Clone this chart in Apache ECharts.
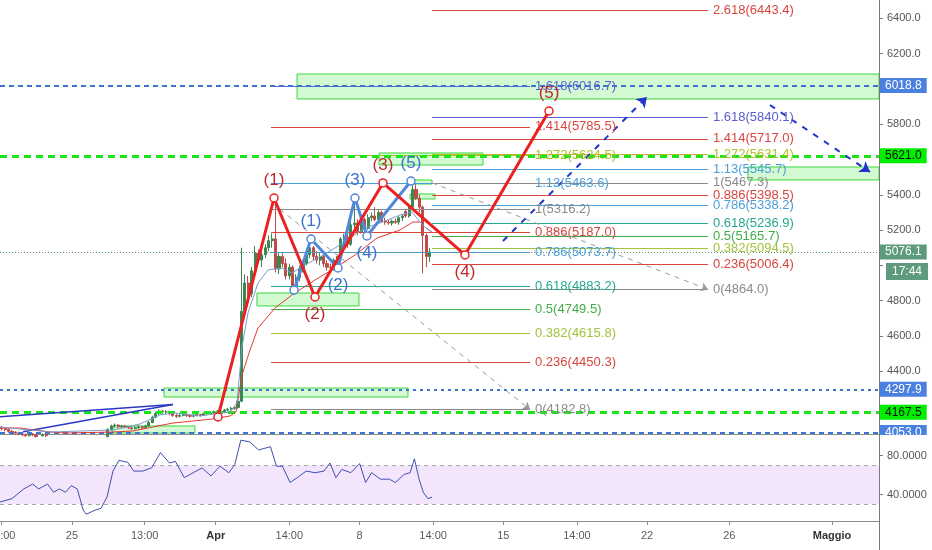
<!DOCTYPE html>
<html><head><meta charset="utf-8">
<script src="https://cdn.jsdelivr.net/npm/echarts@6/dist/echarts.min.js"></script>
<style>html,body{margin:0;padding:0;background:#fff}#c{width:932px;height:550px}</style>
</head><body><div id="c"></div>
<script>
// x unit: hours since 2019-03-21 12:00 ; 4h candles
const candleStart = 2, candleStep = 4;
// [open, close, low, high]
const ohlc = [
[4080,4075,4065,4090],[4075,4070,4060,4082],[4070,4060,4052,4076],[4060,4055,4046,4066],[4055,4050,4042,4060],[4050,4045,4038,4058],
[4045,4040,4032,4052],[4040,4035,4028,4047],[4035,4045,4030,4050],[4045,4040,4033,4051],[4040,4030,4024,4046],[4030,4035,4025,4042],
[4035,4040,4030,4048],[4040,4035,4028,4046],[4035,4030,4022,4041],[4030,4020,4012,4036],[4020,4025,4014,4032],[4025,4030,4018,4038],
[4030,4020,4010,4035],[4020,4010,4000,4026],[4010,3990,3980,4015],[3990,3970,3955,3995],[3970,3960,3940,3978],[3960,3965,3950,3975],
[3965,3975,3958,3985],[3975,3980,3968,3990],[3980,3990,3972,3998],[3990,3995,3982,4004],[3995,4000,3988,4010],[4000,4010,3994,4018],
[4010,4030,4005,4038],[4030,4070,4025,4078],[4070,4090,4062,4098],[4090,4095,4080,4104],[4095,4085,4076,4100],[4085,4090,4078,4097],
[4090,4085,4077,4096],[4085,4080,4072,4091],[4080,4075,4068,4088],[4075,4080,4070,4089],[4080,4085,4074,4093],[4085,4080,4072,4092],
[4080,4090,4076,4098],[4090,4110,4086,4118],[4110,4140,4105,4148],[4140,4160,4134,4170],[4160,4175,4152,4185],[4175,4170,4160,4182],
[4170,4170,4158,4180],[4170,4160,4150,4176],[4160,4150,4142,4166],[4150,4145,4136,4158],[4145,4150,4138,4157],[4150,4155,4143,4162],
[4155,4150,4141,4160],[4150,4145,4138,4156],[4145,4150,4139,4157],[4150,4155,4144,4161],[4155,4150,4143,4160],[4150,4160,4146,4166],
[4160,4160,4152,4168],[4160,4165,4154,4172],[4165,4170,4158,4177],[4170,4175,4163,4182],[4175,4170,4162,4180],[4170,4180,4165,4187],
[4180,4185,4173,4192],[4185,4190,4178,4198],[4190,4195,4182,4204],[4195,4230,4188,4245],[4230,4740,4225,5100],[4740,4900,4700,4950],
[4900,4840,4800,4940],[4840,4970,4820,4990],[4970,5070,4950,5110],[5070,5030,5010,5090],[5030,5060,4990,5080],[5060,5100,5040,5120],
[5100,5140,5080,5170],[5140,5150,5100,5180],[5150,4980,4960,5390],[4980,5050,4950,5070],[5050,5010,4990,5070],[5010,4940,4920,5040],
[4940,4990,4920,5010],[4990,4880,4860,5000],[4880,4930,4855,4950],[4930,4980,4910,5000],[4980,5010,4960,5030],[5010,5060,5000,5090],
[5060,5100,5040,5150],[5100,5050,5030,5110],[5050,5030,5010,5080],[5030,5050,5000,5070],[5050,5010,4990,5060],[5010,4990,4970,5030],
[4990,4985,4960,5010],[4985,5030,4970,5040],[5030,5050,4985,5060],[5050,5150,5040,5160],[5150,5160,5100,5180],[5160,5120,5100,5180],
[5120,5230,5110,5300],[5230,5240,5200,5380],[5240,5190,5170,5260],[5190,5260,5180,5280],[5260,5210,5170,5270],[5210,5270,5200,5290],
[5270,5280,5250,5300],[5280,5260,5250,5330],[5260,5300,5240,5320],[5300,5250,5240,5310],[5250,5245,5230,5270],[5245,5240,5230,5260],
[5240,5250,5225,5260],[5250,5245,5235,5265],[5245,5270,5230,5280],[5270,5280,5250,5290],[5305,5280,5270,5320],[5280,5330,5270,5340],
[5330,5430,5320,5480],[5430,5380,5370,5460],[5380,5330,5300,5400],[5330,5170,4955,5340],[5170,5050,4990,5180],[5050,5076.1,5020,5100]
];

const maRedHours = [0,23.4,58.4,78.3,132,155.4,178.7,202.1,225.5,248.8,268.7,275.7,282.7,292.1,301.4,321.3,341.1,368,391.4,414.7,440.4,467.3,482.5,490.7,497.7,504.7];
const maRedValues = [4078.6,4078.6,4056,4050.3,4056,4061.7,4084.3,4106.9,4118.2,4129.6,4146.6,4169.3,4378.9,4520.6,4645.2,4758.5,4832.2,4917.2,4985.2,5058.8,5155.2,5200.5,5245.8,5245.8,5211.8,5189.2];
const maBlueHours = [0,58.4,132,163.6,186.9,204.4,233.6,268.7,276.9,282.7,289.7,301.4,313.1,329.4,341.1,356.3,371.5,391.4,408.9,426.4,443.9,467.3,481.3,490.7,497.7,504.7];
const maBlueValues = [4084.3,4056,4067.3,4101.3,4152.3,4163.6,4146.6,4169.3,4220.3,4537.6,4730.2,4900.2,4973.9,4985.2,4956.9,5002.2,5041.9,5098.5,5155.2,5211.8,5240.2,5285.5,5302.5,5245.8,5211.8,5189.2];

const rsiHours = [0,13.9,27.8,38.2,45.1,55.6,62.5,69.5,76.4,83.3,90.3,97.2,100.7,111.1,118,125,132,138.9,149.3,156.3,166.7,177.1,187.5,197.9,204.9,215.3,225.7,236.1,246.5,257,267.4,274.3,281.3,291.7,302.1,316,323,329.9,338.9,347.3,357.7,368.1,378.5,385.5,392.4,399.4,409.8,420.2,427.1,434.1,444.5,454.9,461.9,472.3,479.2,484.1,489.6,494.5,500,504.9];
const rsiValues = [32.3,35.7,45.7,50.7,45.7,50.7,42.3,45.7,42.3,49,45.7,24,19.7,24,25.7,37.3,64,75,73,64,64,67.3,83,72.3,74,57.3,62.3,67.3,59,69,62.3,70.7,95.7,94,85.7,89,69,69,52.3,57.3,64,62.3,64,72.3,57.3,65.7,62.3,71.7,52.3,62.3,55.7,55.7,52.3,60.7,62.3,76.7,55.7,42.3,35.7,37.3];

const redWaveHours = [254.7,320.1,368.0,447.4,543.2,641.4];
const redWaveValues = [4141,5381.8,4820.9,5467.3,5058.9,5874.8];
const redWaveLabels = ['','(1)','(2)','(3)','(4)','(5)'];
const blueWaveHours = [343.5,363.3,394.9,414.7,428.7,480.1];
const blueWaveValues = [4860,5149.5,4985.2,5381.8,5166.5,5478];
const blueWaveLabels = ['','(1)','(2)','(3)','(4)','(5)'];
const waveLabelBelow = [false,false,true,false,true,false];

const fibRatios = ['0','0.236','0.382','0.5','0.618','0.786','0.886','1','1.13','1.272','1.414','1.618','2.618'];
const fibRightValues = [4864.0,5006.4,5094.5,5165.7,5236.9,5338.2,5398.5,5467.3,5545.7,5631.4,5717.0,5840.1,6443.4];
const fibLeftValues = [4182.8,4450.3,4615.8,4749.5,4883.2,5073.7,5187.0,5316.2,5463.6,5624.5,5785.5,6016.7,null];
const fibRightSpan = [504.7,827.1];
const fibLeftSpan = [316.6,619.2];

const levelValues = [6018.8,5621.0,5076.1,4297.9,4167.5,4053.0];
const levelKinds = ['blue','lime','last','blueDot','lime','blue'];
const lastTimeText = '17:44';

// [h1, v1, h2, v2]
const boxes = [
 [347,6084.4,1026.9,5942.7],[442.8,5636.8,564.3,5568.8],[479,5484,504.7,5461.3],[479,5404.5,508.2,5376.2],
 [300.2,4843.6,419.4,4770],[191.6,4305.2,476.6,4254.2],[132,4090,227.8,4050.3],[873.8,5557.5,1026.9,5484]
];
// dashed grey fib trend lines [h1,v1,h2,v2]
const fibTrends = [[317.8,5353.5,619.2,4182.8],[504.7,5467.3,827.1,4864.0]];
// projected path arrows
const projArrows = [[587.6,5138.2,755.8,5954.1],[899.5,5908.8,1016.4,5529.1]];
// solid trendlines
const trendLines = [[0,4142.7,202.1,4211.8],[26.9,4057.7,202.1,4211.8]];

const xTickHours = [2,84,169,252,338,420,506,588,674,756,852,972];
const xTickLabels = ['14:00','25','13:00','Apr','14:00','8','14:00','15','14:00','22','26','Maggio'];
const xTickMonth = [false,false,false,true,false,false,false,false,false,false,false,true];
const yTicks = [4400,4600,4800,5000,5200,5400,5600,5800,6000,6200,6400];
const yLabels = [4400,4600,4800,5200,5400,5800,6200,6400];
const rsiTicks = [40,80];
const rsiBand = [30,70];

const X_MAX = 1026.9;
const FONT = 'Liberation Sans';

const fibColor = {'0':'#8a8a8a','0.236':'#d9453f','0.382':'#a3c33c','0.5':'#43ad4a','0.618':'#26a88e','0.786':'#4a9fd8','0.886':'#d9453f','1':'#8a8a8a','1.13':'#4a9fd8','1.272':'#b2be28','1.414':'#d9453f','1.618':'#5a5ed0','2.618':'#d9453f'};
const levelStyle = {
  blue:{line:{color:'#3b74d4',width:2,type:[5,4]},bg:'#4a80e0',fg:'#fff'},
  blueDot:{line:{color:'#3b74d4',width:2,type:[3,4]},bg:'#4a80e0',fg:'#fff'},
  lime:{line:{color:'#19e619',width:3,type:[7,5]},bg:'#00ee00',fg:'#111'},
  last:{line:{color:'#5a8f7b',width:1,type:[1,2]},bg:'#5e9a7c',fg:'#fff'}
};

const chart = echarts.init(document.getElementById('c'));

function fibSegments(values, span){
  const out = [];
  values.forEach((v,i)=>{
    if(v==null) return;
    const col = fibColor[fibRatios[i]];
    out.push([{coord:[span[0],v],lineStyle:{color:col,width:1,type:'solid'},
      label:{show:true,position:'end',distance:5,formatter:fibRatios[i]+'('+v.toFixed(1)+')',color:col,fontSize:13,fontFamily:FONT}},
      {coord:[span[1],v]}]);
  });
  return out;
}

const levelLines = levelValues.map((v,i)=>{
  const s = levelStyle[levelKinds[i]];
  return {yAxis:v,lineStyle:s.line,label:{show:true,position:'end',distance:1,formatter:v.toFixed(1),
    backgroundColor:s.bg,color:s.fg,padding:[2,5,1,5],fontSize:12,fontFamily:FONT}};
});

function waveData(hours, values, labels, color){
  return hours.map((h,i)=>({value:[h,values[i]],
    label:{show:labels[i]!=='',formatter:labels[i],position:waveLabelBelow[i]?'bottom':'top',distance:4,
      color:color,fontSize:17,fontFamily:FONT}}));
}

const option = {
  animation:false,
  backgroundColor:'#ffffff',
  textStyle:{fontFamily:FONT},
  grid:[
    {left:0,top:0,width:879,height:434,containLabel:false,outerBoundsMode:'none'},
    {left:0,top:436,width:879,height:85,containLabel:false,outerBoundsMode:'none'}
  ],
  xAxis:[
    {type:'value',gridIndex:0,min:0,max:X_MAX,axisLine:{show:true,onZero:false,lineStyle:{color:'#8c8c8c'}},axisTick:{show:false},axisLabel:{show:false},splitLine:{show:false}},
    {type:'value',gridIndex:1,min:0,max:X_MAX,axisLine:{show:true,onZero:false,lineStyle:{color:'#8c8c8c'}},
      axisTick:{show:true,customValues:xTickHours,length:4,lineStyle:{color:'#8c8c8c'}},
      axisLabel:{show:true,customValues:xTickHours,margin:9,fontSize:11,color:'#5a5a5a',
        formatter:(v)=>{const i=xTickHours.indexOf(v);if(i<0)return '';return xTickMonth[i]?'{m|'+xTickLabels[i]+'}':xTickLabels[i];},
        rich:{m:{fontWeight:'bold',color:'#333',fontSize:11,fontFamily:FONT}}},
      splitLine:{show:false}}
  ],
  yAxis:[
    {type:'value',gridIndex:0,position:'right',min:4044.6,max:6503.7,
      axisLine:{show:true,onZero:false,lineStyle:{color:'#7a7a7a'}},
      axisTick:{show:true,customValues:yTicks,length:4,lineStyle:{color:'#7a7a7a'}},
      axisLabel:{show:true,customValues:yLabels,margin:8,fontSize:11,color:'#555',formatter:(v)=>v.toFixed(1)},
      splitLine:{show:false}},
    {type:'value',gridIndex:1,position:'right',min:12.8,max:100,
      axisLine:{show:true,onZero:false,lineStyle:{color:'#7a7a7a'}},
      axisTick:{show:true,customValues:rsiTicks,length:4,lineStyle:{color:'#7a7a7a'}},
      axisLabel:{show:true,customValues:rsiTicks,margin:8,fontSize:11,color:'#555',formatter:(v)=>v.toFixed(4)},
      splitLine:{show:false}}
  ],
  series:[
    {type:'line',xAxisIndex:0,yAxisIndex:0,data:[],silent:true,z:1,clip:false,
      markArea:{silent:true,itemStyle:{color:'rgba(60,230,60,0.22)',borderColor:'#3ad83a',borderWidth:1},
        data:boxes.map(b=>[{coord:[b[0],b[1]]},{coord:[b[2],b[3]]}])}},
    {type:'line',xAxisIndex:0,yAxisIndex:0,data:[],silent:true,z:2,clip:false,
      markLine:{silent:true,symbol:['none','none'],data:fibSegments(fibLeftValues,fibLeftSpan).concat(fibSegments(fibRightValues,fibRightSpan))}},
    {type:'line',xAxisIndex:0,yAxisIndex:0,data:[],silent:true,z:3,clip:false,
      markLine:{silent:true,symbol:['none','none'],data:levelLines}},
    {type:'line',xAxisIndex:0,yAxisIndex:0,data:[],silent:true,z:3,
      markLine:{silent:true,symbol:['none','arrow'],symbolSize:7,
        lineStyle:{color:'#9a9a9a',width:1,type:[5,5]},label:{show:false},
        data:fibTrends.map(t=>[{coord:[t[0],t[1]]},{coord:[t[2],t[3]]}])}},
    {type:'line',xAxisIndex:0,yAxisIndex:0,data:[],silent:true,z:3,
      markLine:{silent:true,symbol:['none','none'],
        lineStyle:{color:'#2a36c4',width:1.5,type:'solid'},label:{show:false},
        data:trendLines.map(t=>[{coord:[t[0],t[1]]},{coord:[t[2],t[3]]}])}},
    {type:'candlestick',xAxisIndex:0,yAxisIndex:0,z:4,barWidth:2.6,
      data:ohlc.map((d,i)=>[candleStart+candleStep*i,d[0],d[1],d[2],d[3]]),
      encode:{x:0,y:[1,2,3,4]},
      itemStyle:{color:'#3a8752',color0:'#bf4b48',borderColor:'#3a8752',borderColor0:'#bf4b48',borderWidth:1}},
    {type:'line',xAxisIndex:0,yAxisIndex:0,z:5,showSymbol:false,symbol:'none',
      data:maRedHours.map((h,i)=>[h,maRedValues[i]]),lineStyle:{color:'#e53935',width:1}},
    {type:'line',xAxisIndex:0,yAxisIndex:0,z:5,showSymbol:false,symbol:'none',
      data:maBlueHours.map((h,i)=>[h,maBlueValues[i]]),lineStyle:{color:'#7a9cc8',width:1}},
    {type:'line',xAxisIndex:0,yAxisIndex:0,data:[],silent:true,z:6,clip:false,
      markLine:{silent:true,symbol:['none','arrow'],symbolSize:10,
        lineStyle:{color:'#1f35cc',width:2,type:[6,7]},label:{show:false},
        data:projArrows.map(t=>[{coord:[t[0],t[1]]},{coord:[t[2],t[3]]}])}},
    {type:'line',xAxisIndex:0,yAxisIndex:0,z:7,symbol:'circle',symbolSize:8,showAllSymbol:true,
      data:waveData(blueWaveHours,blueWaveValues,blueWaveLabels,'#3a74cc'),
      lineStyle:{color:'#5288da',width:3},itemStyle:{color:'#ffffff',borderColor:'#5288da',borderWidth:1.5}},
    {type:'line',xAxisIndex:0,yAxisIndex:0,z:8,symbol:'circle',symbolSize:8,showAllSymbol:true,
      data:waveData(redWaveHours,redWaveValues,redWaveLabels,'#c0282d'),
      lineStyle:{color:'#ec2020',width:3},itemStyle:{color:'#ffffff',borderColor:'#ec2020',borderWidth:1.5}},
    {type:'line',xAxisIndex:1,yAxisIndex:1,z:5,showSymbol:false,symbol:'none',
      data:rsiHours.map((h,i)=>[h,rsiValues[i]]),lineStyle:{color:'#3f4fae',width:1},
      markArea:{silent:true,itemStyle:{color:'#f3e6fc'},data:[[{yAxis:rsiBand[0]},{yAxis:rsiBand[1]}]]},
      markLine:{silent:true,symbol:['none','none'],label:{show:false},lineStyle:{color:'#a8a8a8',width:1,type:[4,4]},
        data:[{yAxis:rsiBand[1]},{yAxis:rsiBand[0]}]}}
  ]
};
chart.setOption(option);

const lastIdx = levelKinds.indexOf('last');
const yLast = chart.convertToPixel({yAxisIndex:0}, levelValues[lastIdx]);
const paneBottom = chart.convertToPixel({yAxisIndex:0}, 4044.6);
chart.setOption({graphic:[
  {type:'rect',shape:{x:880,y:paneBottom+1,width:52,height:6},style:{fill:'#ffffff'},z:19},
  {type:'line',shape:{x1:879.5,y1:0,x2:879.5,y2:550},style:{stroke:'#7a7a7a',lineWidth:1},z:20},
  {type:'text',left:886,top:yLast+11,z:20,
    style:{text:lastTimeText,fill:'#fff',backgroundColor:levelStyle.last.bg,padding:[3,6,2,6],fontSize:12,fontFamily:FONT}}
]});
</script>
</body></html>
